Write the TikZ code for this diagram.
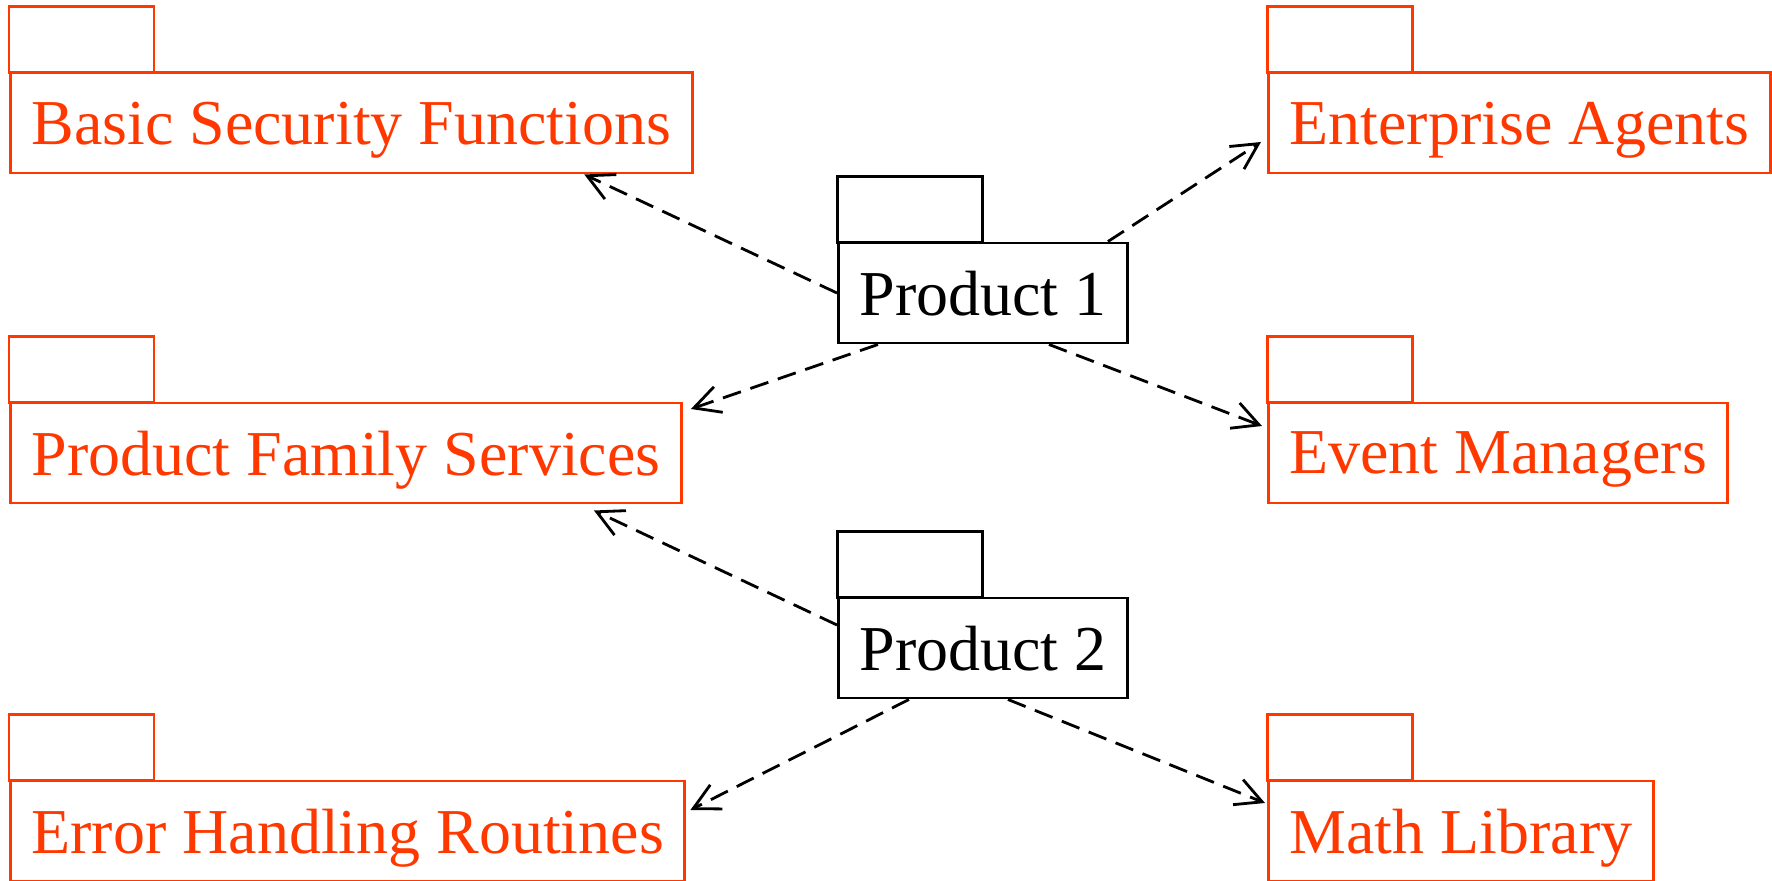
\documentclass[tikz,border=0pt]{standalone}
\usepackage{fontspec}
\setmainfont{Liberation Serif}
\usetikzlibrary{arrows.meta}
\definecolor{pkgred}{RGB}{255,56,0}

\begin{document}
\begin{tikzpicture}[
        every node/.style={font=\fontsize{18.2}{20}\selectfont},
        pkg/.style={draw, line width=0.85pt, minimum height=1cm,
            inner xsep=0.21cm, text depth=0pt, anchor=west},
        lib/.style={pkg, draw=pkgred, text=pkgred},
        prod/.style={pkg, draw=black},
        tab/.style={draw, line width=0.85pt, minimum width=1.45cm,
            minimum height=0.66cm, inner sep=0pt, outer sep=0pt,
            anchor=south west},
        dep/.style={line width=0.8pt, dash pattern=on 0.19cm off 0.1cm,
            -{Straight Barb[length=0.26cm, width=0.27cm]}}
    ]
        \useasboundingbox (0,0) rectangle (17.72,8.80);
        % packages
        \node [lib] (bsf) at (0.09,7.57) {Basic Security Functions};
        \node [lib] (pfs) at (0.09,4.27) {Product Family Services};
        \node [lib] (ehr) at (0.09,0.49) {Error Handling Routines};
        \node [lib] (ea) at (12.67,7.57) {Enterprise Agents};
        \node [lib] (em) at (12.67,4.27) {Event Managers};
        \node [lib] (ml) at (12.67,0.49) {Math Library};
        \node [prod] (p1) at (8.37,5.87) {Product 1};
        \node [prod] (p2) at (8.37,2.32) {Product 2};
        % tabs
        \foreach \n in {bsf,pfs,ehr,ea,em,ml}
            \node [tab, draw=pkgred] (\n tab) at ([yshift=-0.3pt]\n.north west) {};
        \foreach \n in {p1,p2}
            \node [tab] (\n tab) at ([yshift=-0.3pt]\n.north west) {};
        % dependencies
        \draw [dep] (p1.west) -- ([xshift=2.33cm]bsf.south);
        \draw [dep] ([xshift=1.25cm]p1.north) -- ([shift={(-0.06,-0.19)}]ea.west);
        \draw [dep] ([xshift=-1.05cm]p1.south) -- ([shift={(0.08,0.44)}]pfs.east);
        \draw [dep] ([xshift=0.66cm]p1.south) -- ([shift={(-0.05,0.27)}]em.west);
        \draw [dep] ([yshift=0.23cm]p2.west) -- ([shift={(2.48,-0.06)}]pfs.south);
        \draw [dep] ([xshift=-0.74cm]p2.south) -- ([shift={(0.04,0.21)}]ehr.east);
        \draw [dep] ([xshift=0.25cm]p2.south) -- ([shift={(-0.02,0.28)}]ml.west);
    \end{tikzpicture}
\end{document}
